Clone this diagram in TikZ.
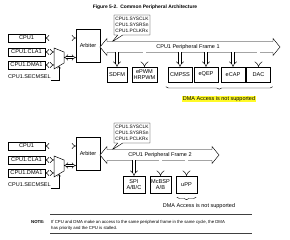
\documentclass[tikz,border=0pt]{standalone}
\usepackage{fontspec}
\setmainfont{Liberation Sans}
\usetikzlibrary{arrows.meta, positioning, calc, shapes.callouts, decorations.pathreplacing}
\definecolor{hilite}{RGB}{255,250,40}

\tikzset{
  blk/.style={draw, line width=0.45pt, inner sep=0pt, align=center, font=\fontsize{5.6}{6.4}\selectfont},
  lbl/.style={inner sep=0pt, font=\fontsize{5.5}{6.4}\selectfont},
  bus/.style={double, double distance=1.6pt, line width=0.5pt, {Implies}-{Implies}},
  tap/.style={double, double distance=2.4pt, line width=0.45pt, -{Implies}},
  clkbox/.style={blk, rectangle callout, callout pointer width=5pt, align=left, font=\fontsize{4.8}{6}\selectfont},
  brc/.style={decorate, decoration={brace, mirror, amplitude=2.5pt}, line width=0.4pt},
}

\begin{document}
\begin{tikzpicture}[x=1pt, y=-1pt]
  \useasboundingbox (0,0) rectangle (290,240);
  \node[inner sep=0pt, font=\fontsize{4.9}{6}\selectfont\bfseries] (fig) at (145,7) {Figure 5-2.\ \ Common Peripheral Architecture};

  % masters, mux, arbiter and clocks of both frames
  \foreach \n/\dy in {1/0, 2/108} {
    \node[blk, minimum width=37pt, minimum height=8pt] (cpu\n) at (26.5,38+\dy) {CPU1};
    \node[blk, minimum width=37pt, minimum height=8pt] (cla\n) at (26.5,52+\dy) {CPU1.CLA1};
    \node[blk, minimum width=37pt, minimum height=8pt] (dma\n) at (26.5,65+\dy) {CPU1.DMA1};
    \node[lbl, anchor=west, inner ysep=1pt] (sel\n) at (8,77+\dy) {CPU1.SECMSEL};
    \node[blk, minimum width=24pt, minimum height=33pt] (arb\n) at (88,45.5+\dy) {Arbiter};
    \draw[line width=0.5pt] (54,48+\dy) -- (64,52+\dy) -- (64,63+\dy) -- (54,69+\dy) -- cycle;
    \coordinate (muxa\n) at (54,52+\dy);
    \coordinate (muxb\n) at (54,65+\dy);
    \coordinate (muxo\n) at (64,57.5+\dy);
    \coordinate (muxs\n) at (59,66+\dy);
    \draw[bus] (cpu\n.east) -- (cpu\n.east -| arb\n.west);
    \draw[bus] (cla\n.east) -- (muxa\n);
    \draw[bus] (dma\n.east) -- (muxb\n);
    \draw[bus] (muxo\n) -- (muxo\n -| arb\n.west);
    \draw[line width=0.4pt, -{Straight Barb[length=2pt, width=3pt]}] (sel\n.south east) -| (muxs\n);
    \node[clkbox, minimum width=36pt, minimum height=20pt, callout absolute pointer={(112,42+\dy)}] (clk\n) at (132,25+\dy) {CPU1.SYSCLK\\CPU1.SYSRSn\\CPU1.PCLKRx};
  }

  % peripheral frame 1
  \draw[line width=0.45pt, fill=white] (100,47) -- (107,38.5) -- (107,41.5) -- (273,41.5) -- (273,38.5)
    -- (280,47) -- (273,55.5) -- (273,52.5) -- (107,52.5) -- (107,55.5) -- cycle;
  \node[lbl] (fr1) at (188,47) {CPU1 Peripheral Frame 1};
  \coordinate (bus1) at (0,52.5);
  \node[blk, minimum width=20pt, minimum height=15pt] (sdfm) at (117,74.5) {SDFM};
  \node[blk, minimum width=25pt, minimum height=15pt] (epwm) at (144.5,74.5) {ePWM\\HRPWM};
  \node[blk, minimum width=24pt, minimum height=15pt] (cmpss) at (180,74.5) {CMPSS};
  \node[blk, minimum width=24pt, minimum height=15pt] (eqep) at (206,74.5) {eQEP};
  \node[blk, minimum width=24pt, minimum height=15pt] (ecap) at (233,74.5) {eCAP};
  \node[blk, minimum width=24pt, minimum height=15pt] (dac) at (258.5,74.5) {DAC};
  \foreach \p in {sdfm,epwm,cmpss,eqep,ecap,dac}
    \draw[tap] (\p.north |- bus1) -- (\p.north);
  \draw[brc] ($(cmpss.south west)+(-2,4.5)$) -- ($(dac.south east)+(2,4.5)$);
  \node[lbl, fill=hilite, inner sep=0.8pt] (nodma1) at (219,99) {DMA Access is not supported};

  % peripheral frame 2
  \draw[line width=0.45pt, fill=white] (100,155) -- (107,146.5) -- (107,149.5) -- (212,149.5) -- (212,146.5)
    -- (219,155) -- (212,163.5) -- (212,160.5) -- (107,160.5) -- (107,163.5) -- cycle;
  \node[lbl] (fr2) at (160,155) {CPU1 Peripheral Frame 2};
  \coordinate (bus2) at (0,160.5);
  \node[blk, minimum width=22pt, minimum height=17pt] (spi) at (134,184.5) {SPI\\A/B/C};
  \node[blk, minimum width=21pt, minimum height=17pt] (mcbsp) at (160.5,184.5) {McBSP\\A/B};
  \node[blk, minimum width=21pt, minimum height=17pt] (upp) at (186.5,184.5) {uPP};
  \foreach \p in {spi,mcbsp,upp}
    \draw[tap] (\p.north |- bus2) -- (\p.north);
  \draw[brc] ($(upp.south west)+(1,4)$) -- ($(upp.south east)+(-1,4)$);
  \node[lbl] (nodma2) at (199,206) {DMA Access is not supported};

  % note
  \draw[line width=0.6pt, black!75] (50,214.5) coordinate (rule1) -- (252,214.5);
  \draw[line width=0.6pt, black!75] (50,233) coordinate (rule2) -- (252,233);
  \node[inner sep=0pt, anchor=west, font=\fontsize{4.3}{5.5}\selectfont\bfseries] (note) at (31,222.5) {NOTE:};
  \node[inner sep=0pt, anchor=west, align=left, font=\fontsize{4.3}{5.5}\selectfont] (notetxt) at (51,225.2)
    {If CPU and DMA make an access to the same peripheral frame in the same cycle, the DMA\\has priority and the CPU is stalled.};
\end{tikzpicture}
\end{document}
